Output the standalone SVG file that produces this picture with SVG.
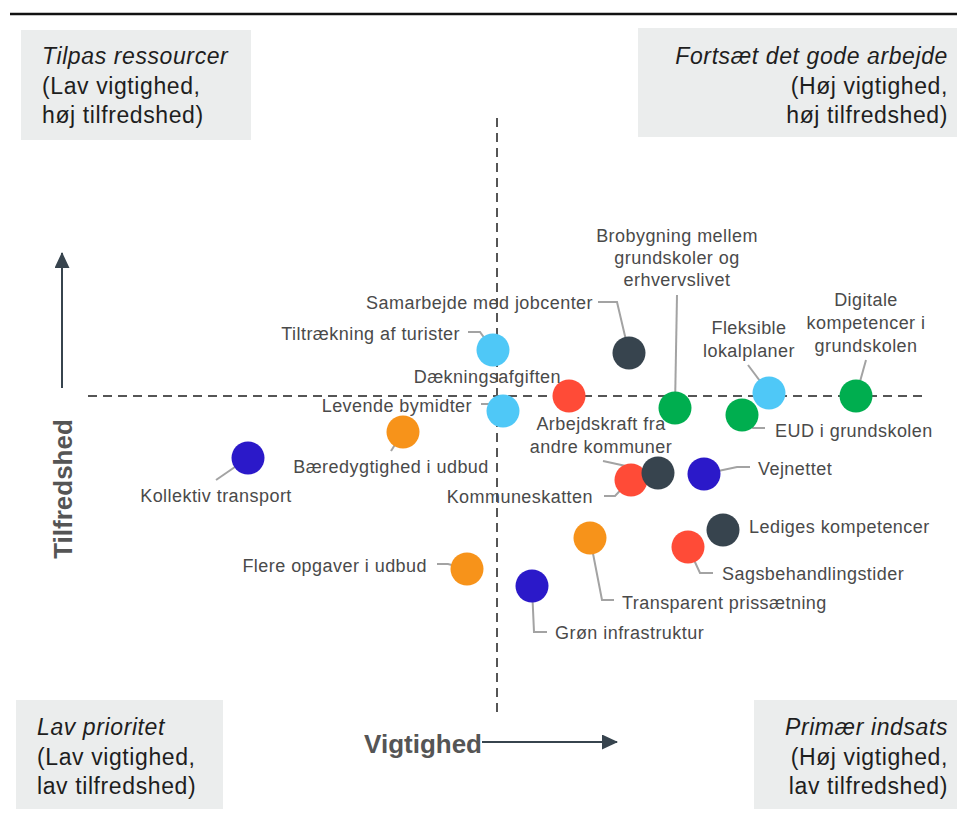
<svg xmlns="http://www.w3.org/2000/svg" width="957" height="819" viewBox="0 0 957 819">
<defs>
<style>
.qbox{fill:#ebeded}
.qt{font-family:"Liberation Sans",Arial,sans-serif;font-size:23px;fill:#1e1e1e;letter-spacing:0.6px}
.qi{font-style:italic}
.lbl{font-family:"Liberation Sans",Arial,sans-serif;font-size:18px;fill:#4a4a4a;letter-spacing:0.45px}
.ax{font-family:"Liberation Sans",Arial,sans-serif;font-size:26px;font-weight:bold;fill:#555}
.lead{fill:none;stroke:#a3a3a3;stroke-width:2}
.dash{stroke:#555;stroke-width:2;stroke-dasharray:9 6;fill:none}
.axl{stroke:#37444e;stroke-width:2;fill:none}
.lb{fill:#4fc8f7}.rd{fill:#ff4b37}.gr{fill:#00ae4f}.dk{fill:#37444e}.bl{fill:#2b19c9}.or{fill:#f7931a}
</style>
<marker id="ah" viewBox="0 0 16 15" refX="15" refY="7.5" markerWidth="16" markerHeight="15" markerUnits="userSpaceOnUse" orient="auto">
<path d="M0,0 L16,7.5 L0,15 z" fill="#37444e"/>
</marker>
</defs>
<rect width="957" height="819" fill="#fff"/>
<line x1="10" y1="14" x2="957" y2="14" stroke="#111" stroke-width="2.5"/>

<g id="quadrant-tl">
<rect class="qbox" x="21" y="30" width="230" height="110"/>
<text class="qt" x="42" y="64"><tspan class="qi">Tilpas ressourcer</tspan><tspan x="42" y="94">(Lav vigtighed,</tspan><tspan x="42" y="123">høj tilfredshed)</tspan></text>
</g>
<g id="quadrant-tr">
<rect class="qbox" x="638" y="28" width="319" height="109"/>
<text class="qt" x="948" y="64" text-anchor="end"><tspan class="qi">Fortsæt det gode arbejde</tspan><tspan x="948" y="94">(Høj vigtighed,</tspan><tspan x="948" y="123">høj tilfredshed)</tspan></text>
</g>
<g id="quadrant-bl">
<rect class="qbox" x="16" y="700" width="207" height="109"/>
<text class="qt" x="37" y="735"><tspan class="qi">Lav prioritet</tspan><tspan x="37" y="765">(Lav vigtighed,</tspan><tspan x="37" y="794">lav tilfredshed)</tspan></text>
</g>
<g id="quadrant-br">
<rect class="qbox" x="754" y="700" width="203" height="109"/>
<text class="qt" x="948" y="735" text-anchor="end"><tspan class="qi">Primær indsats</tspan><tspan x="948" y="765">(Høj vigtighed,</tspan><tspan x="948" y="794">lav tilfredshed)</tspan></text>
</g>

<g id="axes">
<line class="dash" x1="497" y1="118" x2="497" y2="712"/>
<line class="dash" x1="88" y1="396" x2="928" y2="396"/>
<line class="axl" x1="62" y1="388" x2="62" y2="253" marker-end="url(#ah)"/>
<line class="axl" x1="482" y1="742" x2="617" y2="742" marker-end="url(#ah)"/>
<text class="ax" transform="translate(72,489) rotate(-90)" text-anchor="middle">Tilfredshed</text>
<text class="ax" x="482" y="753" text-anchor="end">Vigtighed</text>
</g>

<g id="connectors">
<polyline class="lead" points="468,332 480,332 493,350"/>
<polyline class="lead" points="598,302 617,302 629,353"/>
<polyline class="lead" points="481,404 490,404 503,411"/>
<polyline class="lead" points="403,432 391,451"/>
<polyline class="lead" points="248,458 216,480"/>
<polyline class="lead" points="677,295 675,407"/>
<polyline class="lead" points="748,365 769,393"/>
<polyline class="lead" points="866,360 856,396"/>
<polyline class="lead" points="742,415 753,428 765,428"/>
<polyline class="lead" points="603,461 658,473"/>
<polyline class="lead" points="604,496 615,496 630,480"/>
<polyline class="lead" points="704,474 737,467 750,467"/>
<polyline class="lead" points="723,530 727,525 739,525"/>
<polyline class="lead" points="688,547 700,573 713,573"/>
<polyline class="lead" points="590,538 602,600 614,600"/>
<polyline class="lead" points="437,564 448,564 467,569"/>
<polyline class="lead" points="532,587 534,632 547,632"/>
</g>

<g id="n-turister"><circle class="lb" cx="493" cy="350" r="16.5"/><text class="lbl" x="460" y="340" text-anchor="end">Tiltrækning af turister</text></g>
<g id="n-jobcenter"><circle class="dk" cx="629" cy="353" r="16.5"/><text class="lbl" x="593" y="309" text-anchor="end">Samarbejde med jobcenter</text></g>
<g id="n-daekning"><circle class="rd" cx="569" cy="396" r="16.5"/><text class="lbl" x="561" y="383" text-anchor="end">Dækningsafgiften</text></g>
<g id="n-bymidter"><circle class="lb" cx="503" cy="411" r="16.5"/><text class="lbl" x="472" y="412" text-anchor="end">Levende bymidter</text></g>
<g id="n-baeredygtighed"><circle class="or" cx="403" cy="432" r="16.5"/><text class="lbl" x="391" y="473" text-anchor="middle">Bæredygtighed i udbud</text></g>
<g id="n-kollektiv"><circle class="bl" cx="248" cy="458" r="16.5"/><text class="lbl" x="216" y="502" text-anchor="middle">Kollektiv transport</text></g>
<g id="n-brobygning"><circle class="gr" cx="675" cy="408" r="16.5"/><text class="lbl" x="677" y="242" text-anchor="middle">Brobygning mellem<tspan x="677" y="264">grundskoler og</tspan><tspan x="677" y="286">erhvervslivet</tspan></text></g>
<g id="n-fleksible"><circle class="lb" cx="769" cy="393" r="16.5"/><text class="lbl" x="749" y="334" text-anchor="middle">Fleksible<tspan x="749" y="357">lokalplaner</tspan></text></g>
<g id="n-digitale"><circle class="gr" cx="856" cy="396" r="16.5"/><text class="lbl" x="866" y="306" text-anchor="middle">Digitale<tspan x="866" y="329">kompetencer i</tspan><tspan x="866" y="352">grundskolen</tspan></text></g>
<g id="n-eud"><circle class="gr" cx="742" cy="415" r="16.5"/><text class="lbl" x="775" y="437">EUD i grundskolen</text></g>
<g id="n-kommuneskatten"><circle class="rd" cx="631" cy="480" r="16.5"/><text class="lbl" x="593" y="503" text-anchor="end">Kommuneskatten</text></g>
<g id="n-arbejdskraft"><circle class="dk" cx="658" cy="473" r="16.5"/><text class="lbl" x="601" y="430" text-anchor="middle">Arbejdskraft fra<tspan x="601" y="453">andre kommuner</tspan></text></g>
<g id="n-vejnettet"><circle class="bl" cx="704" cy="474" r="16.5"/><text class="lbl" x="758" y="475">Vejnettet</text></g>
<g id="n-lediges"><circle class="dk" cx="723" cy="530" r="16.5"/><text class="lbl" x="749" y="533">Lediges kompetencer</text></g>
<g id="n-sagsbehandling"><circle class="rd" cx="688" cy="547" r="16.5"/><text class="lbl" x="722" y="580">Sagsbehandlingstider</text></g>
<g id="n-transparent"><circle class="or" cx="590" cy="538" r="16.5"/><text class="lbl" x="622" y="609">Transparent prissætning</text></g>
<g id="n-flere"><circle class="or" cx="467" cy="569" r="16.5"/><text class="lbl" x="427" y="572" text-anchor="end">Flere opgaver i udbud</text></g>
<g id="n-groen"><circle class="bl" cx="532" cy="586" r="16.5"/><text class="lbl" x="555" y="639">Grøn infrastruktur</text></g>
</svg>
